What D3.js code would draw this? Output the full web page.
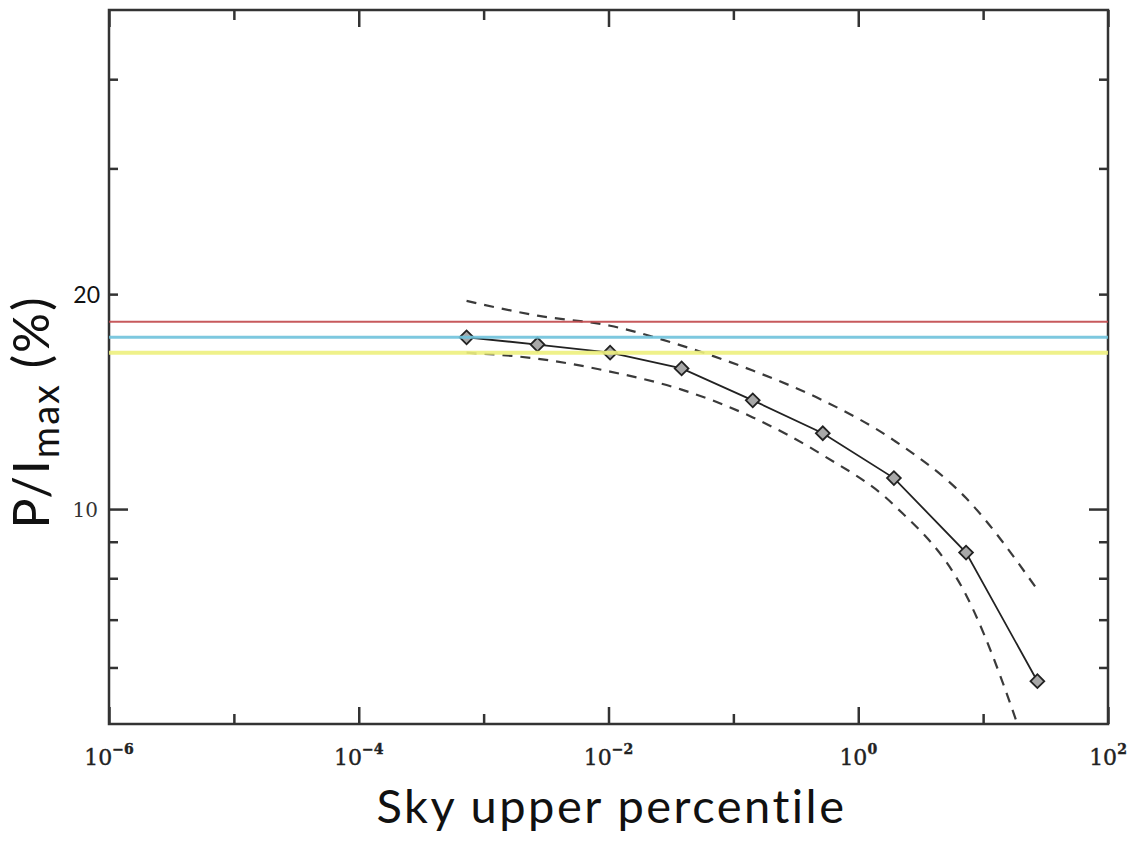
<!DOCTYPE html>
<html>
<head>
<meta charset="utf-8">
<script src="https://cdn.jsdelivr.net/npm/d3@7"></script>
<style>
  body { margin: 0; background: #fff; }
</style>
</head>
<body>
<svg id="chart" width="1131" height="843"></svg>
<script>
// ---- data ----
const percentile = [7.3e-4, 2.7e-3, 1.03e-2, 3.85e-2, 0.143, 0.52, 1.93, 7.3, 27.2];
const ratio      = [17.4, 17.0, 16.56, 15.74, 14.2, 12.77, 11.05, 8.69, 5.74];
const upperBand  = [19.57, 18.66, 18.06, 16.94, 15.63, 14.2, 12.48, 10.36, 7.71];
const lowerBand  = [16.56, 16.24, 15.58, 14.7, 13.44, 11.9, 10.13, 7.58, 4.13];

const refLevels = [18.3, 17.4, 16.56];
const refColors = ["#c2484b", "#6fc3dc", "#eef07e"];
const refWidths = [2, 3, 4];

const xMajorTicks = [1e-6, 1e-4, 1e-2, 1, 1e2];
const xMinorTicks = [1e-5, 1e-3, 1e-1, 10];
const xTickExp    = ["\u22126", "\u22124", "\u22122", "0", "2"];
const yMajorTicks = [10];
const yMinorTicks = [6, 7, 8, 9, 20, 30, 40];

// ---- layout ----
const margin = { left: 109, top: 10, right: 23, bottom: 119 };
const W = 1131, H = 843;
const width = W - margin.left - margin.right;
const height = H - margin.top - margin.bottom;

const svg = d3.select("#chart");
const g = svg.append("g").attr("transform", `translate(${margin.left},${margin.top})`);

const x = d3.scaleLog().domain([1e-6, 1e2]).range([0, width]);
const y = d3.scaleLog().domain([5, 50]).range([height, 0]);

svg.append("defs").append("clipPath").attr("id", "plot")
  .append("rect").attr("width", width).attr("height", height);

const axisColor = "#333";

// inward ticks, major longer than minor
function styleAxis(sel) {
  sel.select(".domain").remove();
  sel.selectAll(".tick line").attr("stroke", axisColor).attr("stroke-width", 2.5);
}
g.append("g").attr("transform", `translate(0,${height})`)
  .call(d3.axisBottom(x).tickValues(xMajorTicks).tickSize(-17).tickFormat(""))
  .call(styleAxis);
g.append("g").attr("transform", `translate(0,${height})`)
  .call(d3.axisBottom(x).tickValues(xMinorTicks).tickSize(-10).tickFormat(""))
  .call(styleAxis);
g.append("g")
  .call(d3.axisTop(x).tickValues(xMajorTicks).tickSize(-17).tickFormat(""))
  .call(styleAxis);
g.append("g")
  .call(d3.axisTop(x).tickValues(xMinorTicks).tickSize(-10).tickFormat(""))
  .call(styleAxis);
g.append("g")
  .call(d3.axisLeft(y).tickValues(yMajorTicks).tickSize(-19).tickFormat(""))
  .call(styleAxis);
g.append("g")
  .call(d3.axisLeft(y).tickValues(yMinorTicks).tickSize(-9).tickFormat(""))
  .call(styleAxis);
g.append("g").attr("transform", `translate(${width},0)`)
  .call(d3.axisRight(y).tickValues(yMajorTicks).tickSize(-19).tickFormat(""))
  .call(styleAxis);
g.append("g").attr("transform", `translate(${width},0)`)
  .call(d3.axisRight(y).tickValues(yMinorTicks).tickSize(-9).tickFormat(""))
  .call(styleAxis);

// frame
g.append("rect")
  .attr("width", width).attr("height", height)
  .attr("fill", "none").attr("stroke", axisColor).attr("stroke-width", 2.5);

// x tick labels 10^n
const xLab = g.append("g").selectAll("text")
  .data(xMajorTicks)
  .join("text")
  .attr("x", d => x(d))
  .attr("y", height + 41)
  .attr("text-anchor", "middle")
  .attr("font-family", "'DejaVu Serif', serif")
  .attr("font-size", 22)
  .attr("fill", "#222")
  .attr("stroke", "#222")
  .attr("stroke-width", 0.4);
xLab.append("tspan").text("10");
xLab.append("tspan")
  .attr("dy", -11)
  .attr("font-size", 14)
  .attr("font-weight", "bold")
  .text((d, i) => xTickExp[i]);

// y tick labels
g.append("text")
  .attr("x", -9).attr("y", y(20) + 9)
  .attr("text-anchor", "end")
  .attr("font-family", "Lato, sans-serif")
  .attr("font-size", 23)
  .attr("fill", "#111")
  .text("20");
g.append("text")
  .attr("x", -11).attr("y", y(10) + 8)
  .attr("text-anchor", "end")
  .attr("font-family", "'DejaVu Serif', serif")
  .attr("font-size", 20)
  .attr("fill", "#333")
  .text("10");

// curves
const plot = g.append("g").attr("clip-path", "url(#plot)");
const lineOf = vals => d3.line()
  .x((d, i) => x(percentile[i]))
  .y(d => y(d))
  .curve(d3.curveMonotoneX)(vals);

[upperBand, lowerBand].forEach(band => {
  plot.append("path")
    .attr("d", lineOf(band))
    .attr("fill", "none")
    .attr("stroke", "#3a3a3a")
    .attr("stroke-width", 2.2)
    .attr("stroke-dasharray", "10,8");
});

plot.append("path")
  .attr("d", d3.line().x((d, i) => x(percentile[i])).y(d => y(d))(ratio))
  .attr("fill", "none")
  .attr("stroke", "#222")
  .attr("stroke-width", 1.8);

plot.selectAll(".pt")
  .data(ratio)
  .join("path")
  .attr("class", "pt")
  .attr("d", d3.symbol(d3.symbolSquare, 95))
  .attr("transform", (d, i) => `translate(${x(percentile[i])},${y(d)}) rotate(45)`)
  .attr("fill", "#a8a8a8")
  .attr("stroke", "#222")
  .attr("stroke-width", 1.8);

// reference levels drawn on top
g.selectAll(".ref")
  .data(refLevels)
  .join("line")
  .attr("class", "ref")
  .attr("x1", 0).attr("x2", width)
  .attr("y1", d => y(d)).attr("y2", d => y(d))
  .attr("stroke", (d, i) => refColors[i])
  .attr("stroke-width", (d, i) => refWidths[i])
  .attr("opacity", 0.9);

// axis titles
svg.append("text")
  .attr("x", margin.left + width / 2 + 3)
  .attr("y", 823)
  .attr("text-anchor", "middle")
  .attr("font-family", "Lato, sans-serif")
  .attr("font-size", 47)
  .attr("letter-spacing", 2.5)
  .attr("fill", "#111")
  .text("Sky upper percentile");

const yt = svg.append("text")
  .attr("transform", "translate(49,412) rotate(-90)")
  .attr("text-anchor", "middle")
  .attr("font-family", "Lato, sans-serif")
  .attr("font-size", 50)
  .attr("letter-spacing", 2)
  .attr("fill", "#111");
yt.append("tspan").text("P/I");
yt.append("tspan").attr("font-size", 38).attr("dy", 10).text("max");
yt.append("tspan").attr("dy", -10).text(" (%)");
</script>
</body>
</html>
